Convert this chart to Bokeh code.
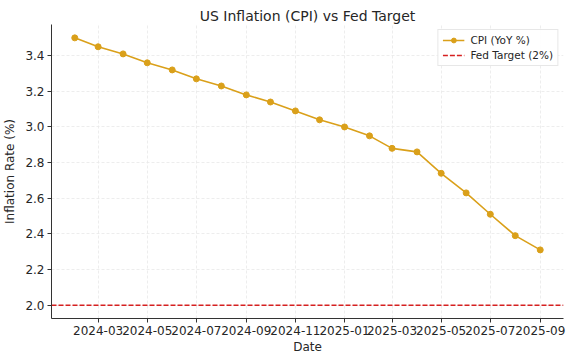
import datetime as dt
from bokeh.plotting import figure
from bokeh.models import (Range1d, FixedTicker, DatetimeTickFormatter, Legend, LegendItem,
                          NumeralTickFormatter)
from bokeh.embed import file_html
from bokeh.resources import INLINE

# ---- data ----
months = ["2024-02", "2024-03", "2024-04", "2024-05", "2024-06", "2024-07", "2024-08",
          "2024-09", "2024-10", "2024-11", "2024-12", "2025-01", "2025-02", "2025-03",
          "2025-04", "2025-05", "2025-06", "2025-07", "2025-08", "2025-09"]
cpi = [3.50, 3.45, 3.41, 3.36, 3.32, 3.27, 3.23, 3.18, 3.14, 3.09,
       3.04, 3.00, 2.95, 2.88, 2.86, 2.74, 2.63, 2.51, 2.39, 2.31]
fed_target = 2.0
x_tick_labels = ["2024-03", "2024-05", "2024-07", "2024-09", "2024-11",
                 "2025-01", "2025-03", "2025-05", "2025-07", "2025-09"]
y_ticks = [2.0, 2.2, 2.4, 2.6, 2.8, 3.0, 3.2, 3.4]

def to_dt(s):
    y, m = s.split("-")
    return dt.datetime(int(y), int(m), 1)

def to_ms(d):
    return (d - dt.datetime(1970, 1, 1)).total_seconds() * 1000.0

dates = [to_dt(m) for m in months]
xms = [to_ms(d) for d in dates]
tick_ms = [to_ms(to_dt(t)) for t in x_tick_labels]

xspan = max(xms) - min(xms)
x0 = min(xms) - 0.05 * xspan
x1 = max(xms) + 0.05 * xspan
ylo = min(min(cpi), fed_target)
yhi = max(cpi)
yspan = yhi - ylo

FONT = "DejaVu Sans"
TXT = "#262626"

p = figure(width=573, height=357, output_backend="svg", toolbar_location=None,
           x_axis_type="datetime",
           x_range=Range1d(x0, x1),
           y_range=Range1d(ylo - 0.05 * yspan, yhi + 0.05 * yspan),
           min_border_left=46, min_border_right=10, min_border_top=24, min_border_bottom=39,
           title="US Inflation (CPI) vs Fed Target")

p.outline_line_color = None
p.background_fill_color = "white"
p.border_fill_color = "white"

p.title.text_font = FONT
p.title.text_font_size = "14px"
p.title.text_font_style = "normal"
p.title.text_color = TXT
p.title.align = "center"
p.title.offset = 0
p.title.standoff = 2

cpi_line = p.line(dates, cpi, line_color="#DAA01A", line_width=1.6)
cpi_pts = p.scatter(dates, cpi, size=6, fill_color="#DAA01A", line_color="#DAA01A")
tgt = p.line([x0, x1], [fed_target, fed_target], line_color="#D62020", line_width=1.5,
             line_dash="5 2")

xa = p.xaxis[0]
xa.ticker = FixedTicker(ticks=tick_ms)
xa.formatter = DatetimeTickFormatter(days="%Y-%m", months="%Y-%m", years="%Y-%m",
                                     hours="%Y-%m", minutes="%Y-%m")
ya = p.yaxis[0]
ya.ticker = FixedTicker(ticks=y_ticks)
ya.formatter = NumeralTickFormatter(format="0.0")

for ax in (xa, ya):
    ax.major_label_text_font = FONT
    ax.major_label_text_font_size = "12px"
    ax.major_label_text_color = TXT
    ax.axis_label_text_font = FONT
    ax.axis_label_text_font_size = "12px"
    ax.axis_label_text_font_style = "normal"
    ax.axis_label_text_color = TXT
    ax.axis_line_color = "#333333"
    ax.major_tick_line_color = "#333333"
    ax.major_tick_out = 4
    ax.major_tick_in = 0
    ax.minor_tick_line_color = None
    ax.major_label_standoff = 3

xa.axis_label = "Date"
xa.axis_label_standoff = 2
ya.axis_label = "Inflation Rate (%)"
ya.axis_label_standoff = 5

for g in (p.xgrid[0], p.ygrid[0]):
    g.grid_line_color = "#e8e8e8"
    g.grid_line_dash = "3 2"
    g.grid_line_width = 0.8

legend = Legend(items=[LegendItem(label="CPI (YoY %)", renderers=[cpi_line, cpi_pts]),
                       LegendItem(label="Fed Target (2%)", renderers=[tgt])],
                location="top_right")
legend.label_text_font = FONT
legend.label_text_font_size = "10.5px"
legend.label_text_color = TXT
legend.glyph_width = 22
legend.glyph_height = 12
legend.label_standoff = 6
legend.spacing = 3
legend.padding = 4
legend.margin = 5
legend.border_line_color = "#d0d0d0"
legend.background_fill_alpha = 0.9
p.add_layout(legend, "center")

open("out.html", "w").write(file_html(p, INLINE))
